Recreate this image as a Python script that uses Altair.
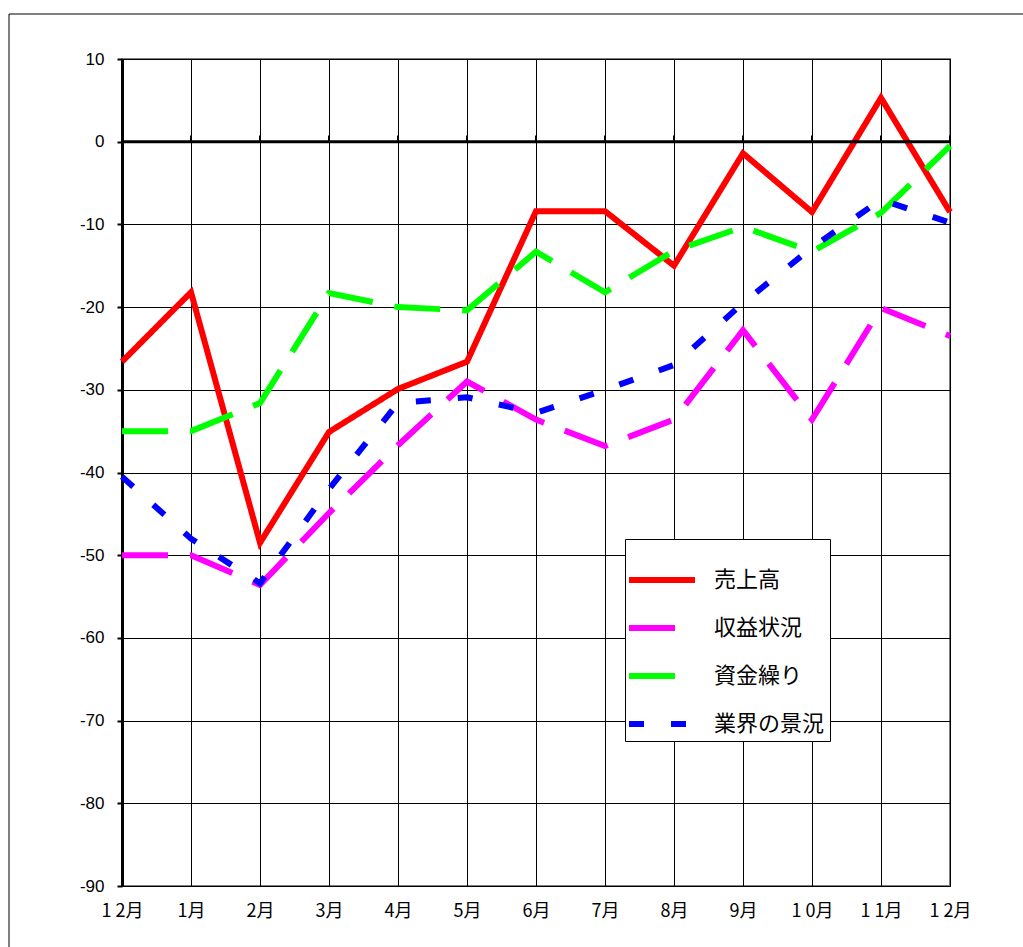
import json
import altair as alt
import pandas as pd

months = ["1 2月", "1月", "2月", "3月", "4月", "5月", "6月", "7月", "8月", "9月", "1 0月", "1 1月", "1 2月"]
series_names = ["売上高", "収益状況", "資金繰り", "業界の景況"]
colors = ["#FF0000", "#FF00FF", "#00FF00", "#0000FF"]
dashes = [[1, 0], [46, 22], [46, 22], [15, 27]]

uriage = [-26.6, -18.2, -48.5, -35.1, -29.9, -26.6, -8.4, -8.4, -15.0, -1.4, -8.5, 5.3, -8.5]
shueki = [-50.0, -50.0, -53.6, -44.9, -36.7, -29.0, -33.6, -36.8, -33.6, -22.8, -33.6, -20.1, -23.5]
shikin = [-35.0, -35.0, -31.6, -18.3, -20.0, -20.4, -13.3, -18.2, -13.2, -10.3, -13.3, -8.6, -0.5]
gyokai = [-40.5, -48.0, -53.4, -42.0, -31.6, -30.9, -32.8, -30.0, -27.0, -19.5, -12.8, -7.0, -9.8]

values = [uriage, shueki, shikin, gyokai]
rows = []
for name, vals in zip(series_names, values):
    for i, v in enumerate(vals):
        rows.append({"idx": i, "series": name, "value": v})
df = pd.DataFrame(rows)

label_expr = json.dumps(months, ensure_ascii=False) + "[datum.value]"

x_enc = alt.X(
    "idx:Q",
    scale=alt.Scale(domain=[0, 12], nice=False, zero=False),
    axis=alt.Axis(
        values=list(range(13)), labelExpr=label_expr, title=None,
        grid=True, gridColor="black", gridWidth=1, ticks=False, domain=False,
        labelFont="Noto Sans CJK JP", labelFontSize=18, labelColor="black",
        labelPadding=16, labelFlush=False,
    ),
)
y_enc = alt.Y(
    "value:Q",
    scale=alt.Scale(domain=[-90, 10], nice=False, zero=False),
    axis=alt.Axis(
        values=list(range(-90, 11, 10)), title=None,
        labelExpr="'' + datum.value",
        grid=True, gridColor="black", gridWidth=1,
        domainColor="black", domainWidth=3,
        tickColor="black", tickSize=5, tickWidth=2,
        labelFont="Liberation Sans", labelFontSize=17, labelColor="black",
        labelPadding=13,
    ),
)

legend = alt.Legend(
    title=None, orient="none", legendX=503, legendY=480,
    strokeColor="black", fillColor="white", padding=5,
    symbolType="stroke", symbolSize=4356, symbolStrokeWidth=6, symbolOffset=-4,
    labelFont="Noto Sans CJK JP", labelFontSize=22, labelColor="black",
    labelOffset=16, rowPadding=0,
)

lines = alt.Chart(df).mark_line(strokeWidth=6, strokeCap="butt", strokeJoin="miter").encode(
    x=x_enc,
    y=y_enc,
    color=alt.Color("series:N", scale=alt.Scale(domain=series_names, range=colors), legend=legend),
    strokeDash=alt.StrokeDash("series:N", scale=alt.Scale(domain=series_names, range=dashes), legend=legend),
    order=alt.Order("idx:Q"),
)

zero_df = pd.DataFrame({"y": [0]})
zero_line = alt.Chart(zero_df).mark_rule(color="black", strokeWidth=3).encode(y="y:Q")

tick_df = pd.DataFrame({"idx": list(range(13)), "y0": [0] * 13, "y1": [0.75] * 13})
zero_ticks = alt.Chart(tick_df).mark_rule(color="black", strokeWidth=2).encode(
    x="idx:Q", y="y0:Q", y2="y1:Q"
)

frame_top = alt.Chart(zero_df).mark_rule(color="black", strokeWidth=1).encode(
    x=alt.value(-113), x2=alt.value(901), y=alt.value(-45)
)
frame_left = alt.Chart(zero_df).mark_rule(color="black", strokeWidth=1).encode(
    x=alt.value(-113), y=alt.value(-45), y2=alt.value(888)
)

chart = alt.layer(zero_ticks, lines, zero_line, frame_top, frame_left).properties(
    width=828, height=827,
    padding={"left": 122, "top": 59, "right": 73, "bottom": 61},
    autosize=alt.AutoSizeParams(type="none"),
    background="white",
).configure_view(stroke="#808080", strokeWidth=2)

chart.save("out.html", embed_options={"renderer": "svg", "actions": False})
